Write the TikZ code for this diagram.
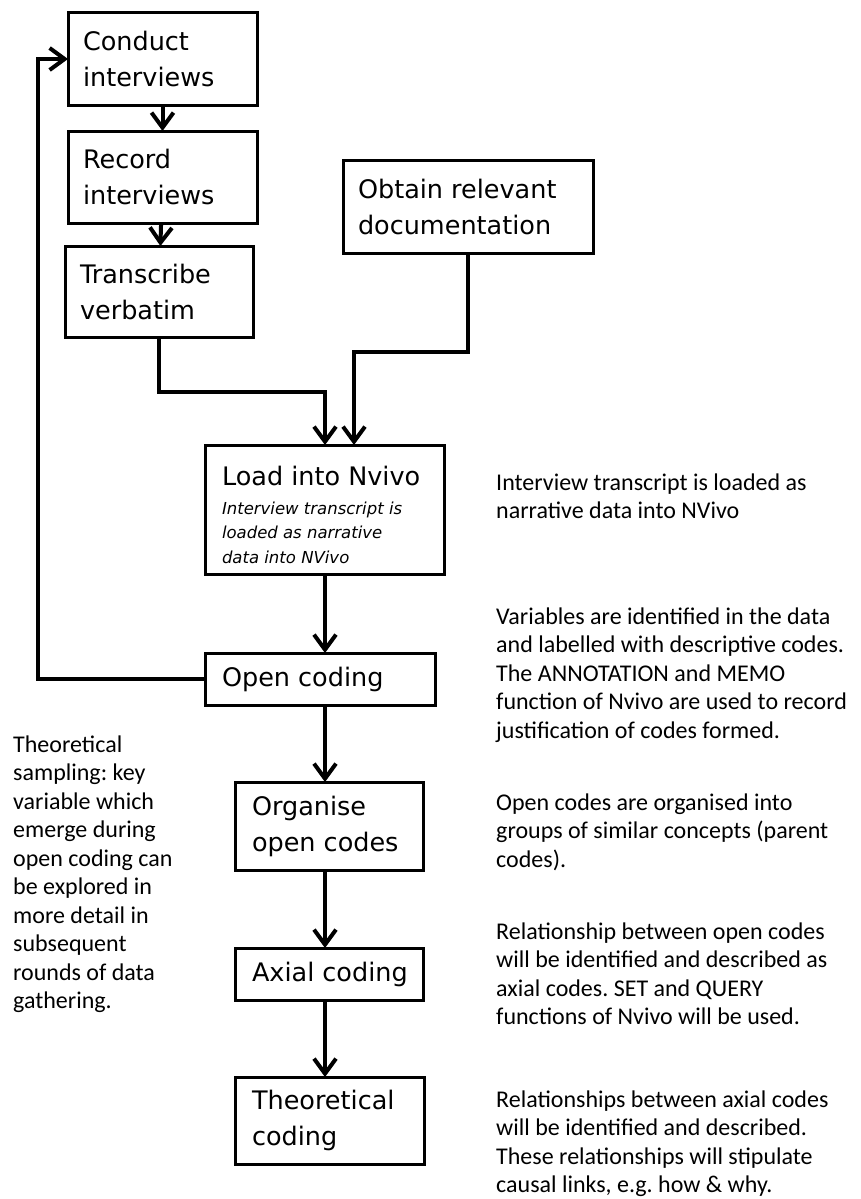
\documentclass[tikz,border=0pt]{standalone}
\usepackage{fontspec}
\setmainfont{Carlito}
\newfontfamily\boxfont{DejaVu Sans}
\usetikzlibrary{arrows.meta}
\hyphenpenalty=10000
\exhyphenpenalty=10000
\frenchspacing

\begin{document}
\begin{tikzpicture}[x=1pt, y=-1pt,
            stage/.style={rectangle, draw, line width=3pt, align=flush left, inner xsep=15pt, inner ysep=0pt, outer sep=0pt, font=\boxfont\fontsize{25.5}{36}\selectfont},
            note/.style={inner sep=0pt, align=flush left, anchor=base west, font=\fontsize{24}{28.5}\selectfont},
            flow/.style={line width=4pt, line join=miter, -{Straight Barb[length=15pt, width=22pt]}}
        ]
        \useasboundingbox (0,0) rectangle (860,1199);

        % Data gathering
        \node[stage, text width=159pt, minimum height=92pt] (conduct) at (162.5,59) {Conduct\\interviews};
        \node[stage, text width=159pt, minimum height=92pt] (record) at (162.5,177) {Record\\interviews};
        \node[stage, text width=158pt, minimum height=91pt] (transcribe) at (159,291.5) {Transcribe\\verbatim};
        \node[stage, text width=220pt, minimum height=93pt] (obtain) at (468,206.5) {Obtain relevant\\documentation};

        % Loading and coding
        \node[stage, text width=205pt, minimum height=129pt, inner xsep=17pt] (load) at (324.5,509.5) {\rule{0pt}{30pt}Load into Nvivo\\[-7pt]\begin{minipage}[t]{205pt}\fontsize{16.5}{24.5}\selectfont\itshape Interview transcript is\\loaded as narrative\\data into NVivo\end{minipage}};
        \node[stage, text width=196pt, minimum height=52pt, inner xsep=17pt] (open) at (320,679) {Open coding};
        \node[stage, text width=154pt, minimum height=88pt, inner xsep=17pt] (organise) at (329,826) {Organise\\open codes};
        \node[stage, text width=154pt, minimum height=52pt, inner xsep=17pt] (axial) at (329,974) {\mbox{Axial coding}};
        \node[stage, text width=155pt, minimum height=87pt, inner xsep=17pt] (theory) at (329.5,1120.5) {Theoretical\\coding};

        % Notes
        \node[note, text width=190pt] (sampling) at (13,752) {Theoretical\\sampling: key\\variable which\\emerge during\\open coding can\\be explored in\\more detail in\\subsequent\\rounds of data\\gathering.};
        \node[note, text width=364pt] (load-note) at (496,490) {Interview transcript is loaded as\\narrative data into NVivo};
        \node[note, text width=364pt] (open-note) at (496,624) {Variables are identified in the data\\and labelled with descriptive codes.\\The ANNOTATION and MEMO\\function of Nvivo are used to record\\justification of codes formed.};
        \node[note, text width=364pt] (organise-note) at (496,810) {Open codes are organised into\\groups of similar concepts (parent\\codes).};
        \node[note, text width=364pt] (axial-note) at (496,939) {Relationship between open codes\\will be identified and described as\\axial codes. SET and QUERY\\functions of Nvivo will be used.};
        \node[note, text width=364pt] (theory-note) at (496,1107) {Relationships between axial codes\\will be identified and described.\\These relationships will stipulate\\causal links, e.g. how \& why.};

        % Connections
        \coordinate (tbend) at (325,392);
        \coordinate (dbend) at (354,352);
        \coordinate (spine) at (325,0);
        \coordinate (back) at (38,679);
        \draw[flow] (conduct) -- (record);
        \draw[flow] (record) -- (transcribe);
        \draw[flow] (transcribe.south) |- (tbend) -- (tbend |- load.north);
        \draw[flow] (obtain.south) |- (dbend) -- (dbend |- load.north);
        \draw[flow] (spine |- load.south) -- (spine |- open.north);
        \draw[flow] (open.west) -- (back) |- (conduct.west);
        \draw[flow] (spine |- open.south) -- (spine |- organise.north);
        \draw[flow] (spine |- organise.south) -- (spine |- axial.north);
        \draw[flow] (spine |- axial.south) -- (spine |- theory.north);

    \end{tikzpicture}
\end{document}
